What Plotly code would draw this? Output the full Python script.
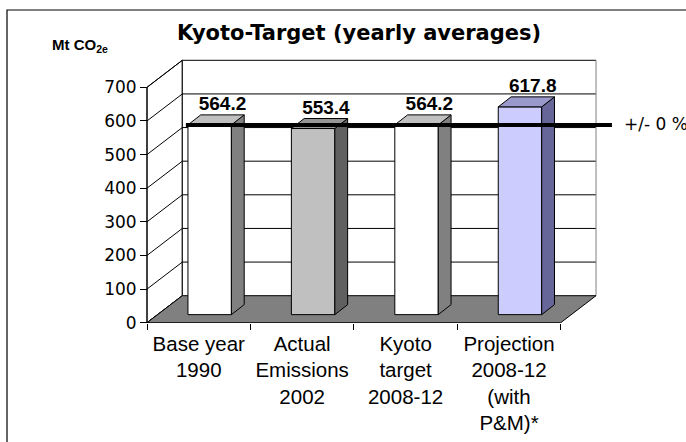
import plotly.graph_objects as go

# ---------------- data ----------------
categories = ["Base year<br>1990",
              "Actual<br>Emissions<br>2002",
              "Kyoto<br>target<br>2008-12",
              "Projection<br>2008-12<br>(with<br>P&amp;M)*"]
values = [564.2, 553.4, 564.2, 617.8]
kyoto_target = 564.2
y_ticks = [0, 100, 200, 300, 400, 500, 600, 700]
value_labels = [f"{v:.1f}" for v in values]

# ---------------- style ----------------
front_colors = ["#ffffff", "#c0c0c0", "#ffffff", "#ccccff"]
top_colors = ["#c0c0c0", "#969696", "#c0c0c0", "#9999cc"]
side_colors = ["#808080", "#606060", "#808080", "#666699"]
FONT = "DejaVu Sans"
ARIAL = "Liberation Sans, Arial, sans-serif"

W, H = 686, 442
PX_PER_CAT = 103.43
PX_PER_VAL = 0.33629
AX_LEFT_PX = 147
ZERO_PX = 322.7
PLOT_BOTTOM = 323
MB = H - PLOT_BOTTOM

xr0 = -0.5 - AX_LEFT_PX / PX_PER_CAT
xr1 = xr0 + W / PX_PER_CAT
yr0 = -(PLOT_BOTTOM - ZERO_PX) / PX_PER_VAL
yr1 = yr0 + PLOT_BOTTOM / PX_PER_VAL

DX = 35.3 / PX_PER_CAT
DY = 27.0 / PX_PER_VAL
BAR_W = 0.42
BAR_XO = 0.106
BAR_BASE = 24.0
BDX = 12.8 / PX_PER_CAT
BDY = 10.0 / PX_PER_VAL

n = len(values)
x_left = -0.5
x_right = n - 0.5
ymax = y_ticks[-1]


def px_x(p):
    return p / W


def px_y(p):
    return (PLOT_BOTTOM - p) / PLOT_BOTTOM


def path(pts):
    return "M " + " L ".join(f"{x},{y}" for x, y in pts) + " Z"


shapes = []
# side wall
shapes.append(dict(type="path", xref="x", yref="y", layer="below",
                   path=path([(x_left, 0), (x_left, ymax), (x_left + DX, ymax + DY), (x_left + DX, DY)]),
                   fillcolor="white", line=dict(color="black", width=1)))
# back wall
shapes.append(dict(type="rect", xref="x", yref="y", layer="below",
                   x0=x_left + DX, x1=x_right + DX, y0=DY, y1=ymax + DY,
                   fillcolor="white", line=dict(width=0)))
for v in y_ticks[1:]:
    shapes.append(dict(type="line", xref="x", yref="y", layer="below",
                       x0=x_left + DX, x1=x_right + DX, y0=v + DY, y1=v + DY,
                       line=dict(color="black", width=1)))
shapes.append(dict(type="line", xref="x", yref="y", layer="below",
                   x0=x_right + DX, x1=x_right + DX, y0=DY, y1=ymax + DY,
                   line=dict(color="#808080", width=1)))
shapes.append(dict(type="line", xref="x", yref="y", layer="below",
                   x0=x_left + DX, x1=x_left + DX, y0=DY, y1=ymax + DY,
                   line=dict(color="black", width=1)))
# diagonals on side wall
for v in y_ticks:
    shapes.append(dict(type="line", xref="x", yref="y", layer="below",
                       x0=x_left, x1=x_left + DX, y0=v, y1=v + DY,
                       line=dict(color="black", width=1)))
# floor
shapes.append(dict(type="path", xref="x", yref="y", layer="below",
                   path=path([(x_left, 0), (x_right, 0), (x_right + DX, DY), (x_left + DX, DY)]),
                   fillcolor="#808080", line=dict(color="black", width=1)))
# front value axis line
shapes.append(dict(type="line", xref="x", yref="y", layer="below",
                   x0=x_left, x1=x_left, y0=0, y1=ymax,
                   line=dict(color="black", width=1)))
# outer chart border
shapes.append(dict(type="rect", xref="paper", yref="paper",
                   x0=px_x(7), x1=px_x(W + 4), y0=px_y(H + 4), y1=px_y(10),
                   line=dict(color="black", width=1.2), fillcolor="rgba(0,0,0,0)"))

fig = go.Figure()

fig.add_trace(go.Bar(
    x=list(range(n)), y=values, base=[BAR_BASE] * n,
    width=BAR_W, offset=BAR_XO - BAR_W / 2,
    marker=dict(color=front_colors, line=dict(color="black", width=1)),
    hoverinfo="skip"))

for i, v in enumerate(values):
    xl = i + BAR_XO - BAR_W / 2
    xr = i + BAR_XO + BAR_W / 2
    b = BAR_BASE
    t = BAR_BASE + v
    fig.add_trace(go.Scatter(
        x=[xr, xr + BDX, xr + BDX, xr, xr], y=[b, b + BDY, t + BDY, t, b],
        mode="lines", fill="toself", fillcolor=side_colors[i],
        line=dict(color="black", width=1), hoverinfo="skip"))
    fig.add_trace(go.Scatter(
        x=[xl, xr, xr + BDX, xl + BDX, xl], y=[t, t, t + BDY, t + BDY, t],
        mode="lines", fill="toself", fillcolor=top_colors[i],
        line=dict(color="black", width=1), hoverinfo="skip"))

# Kyoto target line
fig.add_trace(go.Scatter(
    x=[BAR_XO - BAR_W / 2 - 0.02, n - 1 + 0.995],
    y=[kyoto_target + BAR_BASE] * 2,
    mode="lines", line=dict(color="black", width=4), hoverinfo="skip"))

# value labels
fig.add_trace(go.Scatter(
    x=[i + BAR_XO + BDX for i in range(n)],
    y=[v + BAR_BASE + BDY for v in values],
    mode="text", text=value_labels, textposition="top center",
    textfont=dict(family=ARIAL, size=19, color="black", weight="bold"),
    hoverinfo="skip"))

fig.update_layout(
    width=W, height=H,
    margin=dict(l=0, r=0, t=0, b=MB),
    paper_bgcolor="white", plot_bgcolor="rgba(0,0,0,0)",
    showlegend=False,
    shapes=shapes,
    xaxis=dict(range=[xr0, xr1], showgrid=False, zeroline=False, showline=False,
               tickmode="array", tickvals=list(range(n)), ticktext=categories,
               ticks="", ticklabelstandoff=6,
               tickfont=dict(family=ARIAL, size=20.5, color="black"),
               minor=dict(tickmode="array", tickvals=[i - 0.5 for i in range(n + 1)],
                          ticks="outside", ticklen=6, tickcolor="black", tickwidth=1,
                          showgrid=False)),
    yaxis=dict(range=[yr0, yr1], showgrid=False, zeroline=False, showline=False,
               anchor="free", position=AX_LEFT_PX / W,
               tickmode="array", tickvals=y_ticks,
               ticks="outside", ticklen=7, tickcolor="black", tickwidth=1,
               tickfont=dict(family=FONT, size=17, color="black")),
    annotations=[
        dict(text="Kyoto-Target (yearly averages)", xref="paper", yref="paper",
             x=px_x(175), y=px_y(32.5), xanchor="left", yanchor="middle", showarrow=False,
             font=dict(family=FONT, size=21, color="black", weight="bold")),
        dict(text="Mt CO<sub>2e</sub>", xref="paper", yref="paper",
             x=px_x(50), y=px_y(46), xanchor="left", yanchor="middle", showarrow=False,
             font=dict(family=ARIAL, size=15, color="black", weight="bold")),
        dict(text="+/- 0 %", xref="paper", yref="paper",
             x=px_x(622), y=px_y(124), xanchor="left", yanchor="middle", showarrow=False,
             font=dict(family=FONT, size=17, color="black")),
    ],
)

fig.write_html("out.html", config={"displayModeBar": False}, post_script=(
    "document.body.style.margin='0px';"
    "document.body.style.padding='0px';"
    "document.body.style.overflow='hidden';"
    "window.dispatchEvent(new Event('resize'));"))
